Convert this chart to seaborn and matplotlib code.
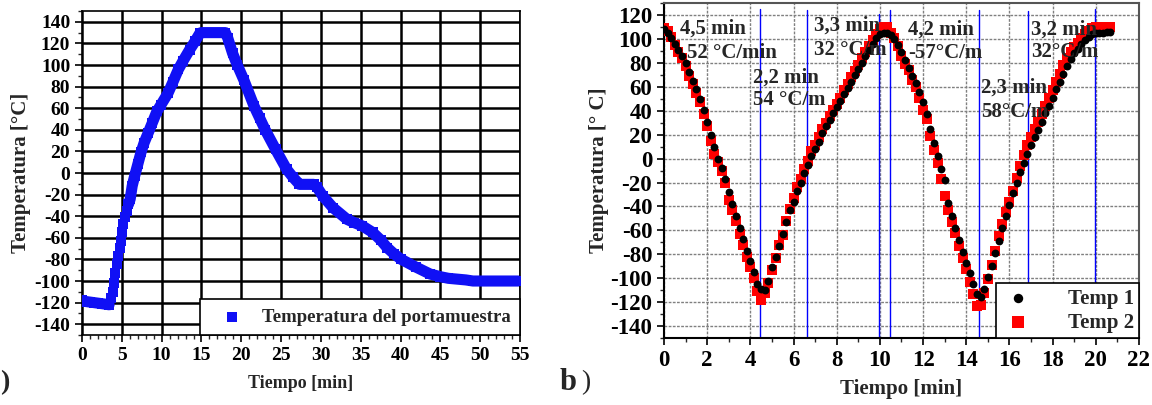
import matplotlib
matplotlib.use("Agg")
import matplotlib.pyplot as plt
import seaborn as sns
import pandas as pd
from matplotlib.ticker import MultipleLocator

# ---- panel a: sample holder temperature ----
tiempo_a = [0, 0.5, 1, 1.5, 2, 2.5, 3, 3.4, 3.63, 3.83, 4.0, 4.17, 4.38, 4.58, 4.71, 4.92,
            5.0, 5.2, 5.42, 5.63, 5.83, 6.05, 6.3, 6.6, 7.0, 7.4, 7.8, 8.3, 8.8, 9.4, 9.9,
            10.8, 11.4, 12.1, 12.7, 13.5, 14.2, 14.8, 15.0, 16.0, 17.0, 18.0, 18.3, 18.9,
            19.5, 20.3, 21.6, 22.3, 23.0, 24.3, 25.7, 26.5, 27.3, 28.0, 29.1, 29.5, 30.2,
            31.5, 33.3, 34.2, 35.2, 36.5, 37.5, 38.3, 39.2, 40.1, 41.9, 43.7, 45.0, 46.0,
            48.2, 49.1, 50.0, 52.0, 54.8]
temp_a = [-118, -119, -119.5, -120, -120.5, -121, -121.5, -122, -116, -110, -102, -93, -84,
          -77, -69, -63, -55, -47, -41, -35, -29, -24, -12, -3, 8, 19, 28, 37, 46, 57, 63,
          74, 84, 96, 104, 114, 122, 129.5, 130, 130, 130, 130, 125, 111, 100, 86.5, 62,
          51, 40, 22, 3.4, -4, -10.5, -10.5, -10.5, -13, -21, -32, -43, -46, -49, -55,
          -62, -69, -75, -80, -87, -93.5, -96, -97.5, -99, -100, -100, -100, -100]

# ---- panel b: two thermocouples ----
tiempo_b = [0.00, 0.17, 0.33, 0.50, 0.67, 0.83, 1.00, 1.17, 1.33, 1.50, 1.67, 1.83, 2.00,
            2.17, 2.33, 2.50, 2.67, 2.83, 3.00, 3.17, 3.33, 3.50, 3.67, 3.83, 4.00, 4.17,
            4.33, 4.50, 4.67, 4.83, 5.00, 5.17, 5.33, 5.50, 5.67, 5.83, 6.00, 6.17, 6.33,
            6.50, 6.67, 6.83, 7.00, 7.17, 7.33, 7.50, 7.67, 7.83, 8.00, 8.17, 8.33, 8.50,
            8.67, 8.83, 9.00, 9.17, 9.33, 9.50, 9.67, 9.83, 10.00, 10.17, 10.33, 10.50,
            10.67, 10.83, 11.00, 11.17, 11.33, 11.50, 11.67, 11.83, 12.00, 12.17, 12.33,
            12.50, 12.67, 12.83, 13.00, 13.17, 13.33, 13.50, 13.67, 13.83, 14.00, 14.17,
            14.33, 14.50, 14.67, 14.83, 15.00, 15.17, 15.33, 15.50, 15.67, 15.83, 16.00,
            16.17, 16.33, 16.50, 16.67, 16.83, 17.00, 17.17, 17.33, 17.50, 17.67, 17.83,
            18.00, 18.17, 18.33, 18.50, 18.67, 18.83, 19.00, 19.17, 19.33, 19.50, 19.67,
            19.83, 20.00, 20.17, 20.33, 20.50, 20.67]
temp_1 = [108, 105, 101, 96, 91, 86, 80, 72, 65, 58, 50, 41, 31, 20, 10, 0, -8, -17, -28,
          -38, -48, -58, -67, -77, -86, -95, -105, -109, -110, -102, -91, -82, -73, -63,
          -53, -43, -36, -27, -20, -12, -5, 2, 8, 14, 21, 27, 32, 38, 43, 48, 54, 59, 64,
          70, 75, 80, 86, 91, 96, 101, 104, 105, 105, 103, 100, 95, 89, 82, 76, 69, 63,
          56, 47, 37, 25, 13, 2, -9, -18, -37, -48, -58, -68, -78, -87, -96, -105, -113,
          -116, -109, -99, -90, -79, -69, -58, -48, -39, -29, -20, -11, -4, 4, 11, 18, 24,
          31, 38, 44, 51, 58, 64, 71, 77, 83, 88, 92, 96, 99, 102, 104, 105, 105, 105, 106,
          106]
temp_2 = [109, 107, 102, 95, 89, 84, 77, 69, 62, 55, 47, 37, 27, 15, 4, -3, -10, -20, -35,
          -43, -52, -63, -72, -82, -91, -100, -111, -118, -112, -104, -93, -83, -72, -64,
          -52, -42, -33, -24, -17, -9, -2, 6, 11, 18, 25, 30, 36, 41, 46, 51, 57, 62, 68,
          73, 78, 84, 89, 94, 99, 104, 108, 110, 110, 105, 101, 94, 86, 79, 74, 66, 60, 51,
          41, 33, 19, 7, -4, -17, -31, -43, -53, -62, -73, -83, -92, -103, -113, -123, -122,
          -112, -101, -89, -77, -65, -55, -45, -36, -27, -16, -6, 3, 11, 18, 25, 31, 37, 44,
          51, 57, 64, 71, 78, 84, 89, 93, 97, 101, 104, 107, 109, 110, 110, 110, 110, 110]

lineas_x = [4.46, 6.63, 9.97, 10.45, 14.6, 16.84, 19.94]
lineas_top = [125, 124, 121, 124, 124, 123, 125]

notas = [(0.74, 109, "4,5 min"), (1.05, 88, "52 °C/min"),
         (4.1, 68, "2,2 min"), (4.1, 49, "54 °C/m"),
         (6.94, 111, "3,3 min"), (6.94, 91, "32 °C/m"),
         (11.31, 108, "4,2 min"), (11.31, 88, "-57°C/m"),
         (14.68, 59, "2,3 min"), (14.68, 39, "58°C/m"),
         (16.99, 108, "3,2 min"), (16.99, 89, "32°C/m")]

sns.set_theme(style="ticks")
plt.rcParams["font.family"] = ["Liberation Serif", "DejaVu Serif"]
plt.rcParams["font.weight"] = "bold"
plt.rcParams["axes.unicode_minus"] = False
plt.rcParams["xtick.direction"] = "out"
plt.rcParams["ytick.direction"] = "out"

fig = plt.figure(figsize=(11.52, 4.05), dpi=100)
ax1 = fig.add_axes([0.0712, 0.1728, 0.3802, 0.8])
ax2 = fig.add_axes([0.5764, 0.1654, 0.4123, 0.827])

# panel a
df_a = pd.DataFrame({"t": tiempo_a, "T": temp_a})
azul = "#1010f5"
dense1 = df_a[df_a["t"] <= 3.5]
dense2 = df_a[df_a["t"] >= 5.8]
sns.lineplot(data=dense1, x="t", y="T", ax=ax1, color=azul, lw=8, sort=False,
             estimator=None, legend=False)
sns.lineplot(data=dense2, x="t", y="T", ax=ax1, color=azul, lw=8, sort=False,
             estimator=None, legend=False)
sns.scatterplot(data=df_a, x="t", y="T", ax=ax1, color=azul, marker="s", s=52,
                linewidth=0, label="Temperatura del portamuestra", zorder=3)
ax1.set_xlim(0, 55)
ax1.set_ylim(-150, 150)
ax1.xaxis.set_major_locator(MultipleLocator(5))
ax1.xaxis.set_minor_locator(MultipleLocator(1))
ax1.set_yticks(range(-140, 141, 20))
ax1.yaxis.set_minor_locator(MultipleLocator(10))
ax1.grid(True, which="major", color="black", lw=1.8)
ax1.set_axisbelow(True)
ax1.tick_params(which="major", length=5, width=1.2, labelsize=14, colors="black")
ax1.tick_params(which="minor", length=3, width=1)
ax1.set_xlabel("Tiempo [min]", fontsize=13, fontweight="bold", labelpad=8)
ax1.set_ylabel("Temperatura [°C]", fontsize=15, fontweight="bold", labelpad=2)
for s in ax1.spines.values():
    s.set_color("black")
    s.set_linewidth(1.2)
leg1 = ax1.legend(loc="lower right", borderaxespad=0, fancybox=False, framealpha=1,
                  edgecolor="black", prop={"size": 13.5, "weight": "bold"},
                  handletextpad=0.4, borderpad=0.5, handlelength=2.4, markerscale=1.0)
leg1.get_frame().set_linewidth(1.2)

# panel b
df_b = pd.DataFrame({"t": tiempo_b, "Temp 1": temp_1, "Temp 2": temp_2})
sns.scatterplot(data=df_b, x="t", y="Temp 2", ax=ax2, color="#ff0000", marker="s",
                s=48, linewidth=0, label="Temp 2", zorder=3)
sns.scatterplot(data=df_b, x="t", y="Temp 1", ax=ax2, color="black", marker="o",
                s=32, linewidth=0, label="Temp 1", zorder=4)
for x, top in zip(lineas_x, lineas_top):
    ax2.axvline(x, ymin=0, ymax=(top + 150) / 280, color="#0000ff", lw=1, zorder=2)
for x, y, s in notas:
    ax2.text(x, y, s, ha="left", va="center", fontsize=15, fontweight="bold", zorder=5)
ax2.set_xlim(0, 22)
ax2.set_ylim(-150, 130)
ax2.xaxis.set_major_locator(MultipleLocator(2))
ax2.xaxis.set_minor_locator(MultipleLocator(1))
ax2.set_yticks(range(-140, 121, 20))
ax2.yaxis.set_minor_locator(MultipleLocator(10))
ax2.grid(True, which="major", color="#808080", lw=1, ls=(0, (2, 1)))
ax2.set_axisbelow(True)
ax2.tick_params(which="major", length=5, width=1.2, labelsize=16.5, colors="black")
ax2.tick_params(which="minor", length=3, width=1)
ax2.set_xlabel("Tiempo [min]", fontsize=15, fontweight="bold", labelpad=6)
ax2.set_ylabel("Temperatura [° C]", fontsize=15, fontweight="bold", labelpad=1)
ax2.spines["left"].set_color("black")
ax2.spines["bottom"].set_color("black")
ax2.spines["top"].set_color("#555555")
ax2.spines["right"].set_color("#555555")
for s in ax2.spines.values():
    s.set_linewidth(1.5)
h, l = ax2.get_legend_handles_labels()
leg2 = ax2.legend(h[::-1], l[::-1], loc="lower right", borderaxespad=0, fancybox=False,
                  framealpha=1, edgecolor="black", prop={"size": 15, "weight": "bold"},
                  handletextpad=1.6, borderpad=0.25, labelspacing=0.2, handlelength=1.6,
                  markerscale=1.2)
leg2.get_frame().set_linewidth(1.2)

for ax in (ax1, ax2):
    for lab in ax.get_xticklabels() + ax.get_yticklabels():
        lab.set_fontweight("bold")

fig.text(0, 1 - 383 / 405, ")", ha="left", va="center", fontsize=20)
fig.text(560 / 1152, 1 - 383 / 405, "b", ha="left", va="center", fontsize=22,
         fontweight="bold")
fig.text(581 / 1152, 1 - 383 / 405, ")", ha="left", va="center", fontsize=20,
         fontweight="normal")

fig.savefig("out.png", dpi=100)
